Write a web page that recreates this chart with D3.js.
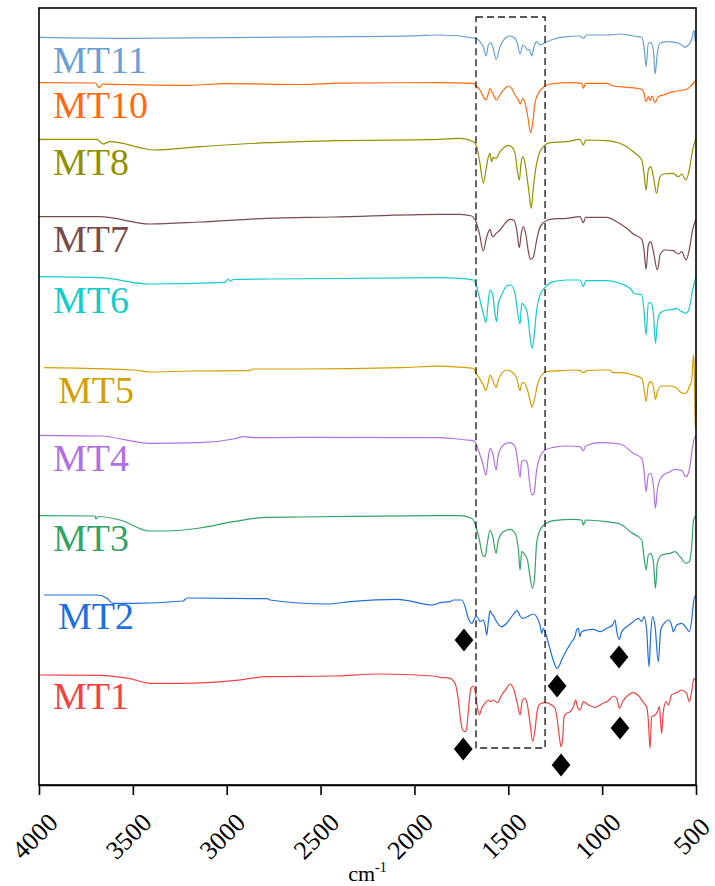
<!DOCTYPE html>
<html lang="en">
<head>
  <meta charset="utf-8">
  <title>FTIR spectra MT1 - MT11</title>
  <script src="https://d3js.org/d3.v7.min.js"></script>
  <style>
    body { margin: 0; background: #fff; }
    svg text { font-family: "Times New Roman", "Liberation Serif", serif; }
  </style>
</head>
<body>
<script>
// wavenumber (cm-1) vs. transmittance, each spectrum relative to its own baseline (a.u.)
var names   = ["MT1", "MT2", "MT3", "MT4", "MT5", "MT6", "MT7", "MT8", "MT10", "MT11"];
var colors  = ["#f04343", "#1f6fe0", "#33a366", "#b070e3", "#d49f00", "#14cccc", "#7a4a4a", "#929200", "#ff6a10", "#6a9fd4"];
var offsets = [110, 190, 269.3, 349.7, 417.3, 508.3, 568.3, 645.7, 702.3, 747.7];
var labelX  = [3925, 3899, 3925, 3925, 3899, 3925, 3925, 3925, 3925, 3925];
var labelY  = [76, 156, 234, 314, 382, 472, 533, 610, 667, 712];
var xTicks  = [4000, 3500, 3000, 2500, 2000, 1500, 1000, 500];

var mt1 = [[4000,0],[3675,-0.3],[3515,-3.7],[3409,-8.3],[3233,-8.3],[2966,-5.7],[2785,-1.7],[2434,-1],[2183,1],[1900,-1],[1864,-2.3],[1810,-3.3],[1784,-8.3],[1766,-25],[1754,-45],[1743,-55],[1730,-56.7],[1722,-53.3],[1709,-28.3],[1699,-13.3],[1686,-11],[1676,-16.7],[1665,-31.7],[1654,-40],[1642,-33.3],[1624,-28.3],[1606,-25],[1594,-26.7],[1580,-25],[1558,-27.7],[1535,-20],[1509,-13.3],[1491,-9],[1473,-13.3],[1452,-28.3],[1437,-40],[1425,-25],[1411,-23.3],[1398,-30],[1384,-48.3],[1370,-66.7],[1358,-55],[1345,-35],[1331,-29],[1304,-27.7],[1278,-29],[1251,-33.3],[1239,-45],[1228,-61.7],[1219,-71.7],[1210,-63.3],[1203,-41.7],[1189,-38.3],[1171,-36.7],[1153,-31.7],[1141,-25],[1132,-31.7],[1118,-35],[1100,-26.7],[1073,-30],[1038,-32.3],[1002,-29],[967,-25.7],[940,-21],[922,-23.3],[908,-33.3],[891,-26.7],[860,-20],[834,-17.7],[802,-21.7],[777,-28.3],[763,-31.7],[754,-45],[745,-73.3],[736,-41.7],[718,-40],[706,-36.7],[695,-31.7],[688,-48.3],[683,-58.3],[674,-36.7],[660,-26.7],[647,-30],[630,-20],[612,-18.3],[594,-16.7],[576,-15],[550,-18.3],[536,-26.7],[523,-16.7],[511,-3.3],[505,-5],[500,-5]];

var mt2 = [[3973,0],[3691,0],[3638,-3.3],[3606,-8.3],[3499,-8.3],[3233,-6],[3212,-3],[2785,-3.7],[2769,-5],[2466,-9],[2343,-6.7],[2093,-4.3],[1901,-10],[1864,-7.7],[1810,-6.7],[1793,-5],[1748,-5],[1730,-11.7],[1713,-23.3],[1695,-28.3],[1683,-25],[1672,-21],[1660,-23.3],[1651,-26.7],[1636,-25],[1624,-30],[1615,-40],[1606,-26.7],[1597,-15.7],[1589,-18.3],[1576,-21.7],[1562,-26.7],[1535,-31.7],[1509,-28.3],[1482,-21.7],[1452,-15.7],[1437,-21],[1423,-23.3],[1398,-21.7],[1366,-19],[1349,-21.7],[1331,-30],[1322,-38.3],[1313,-33.3],[1304,-36.7],[1286,-48.3],[1269,-60],[1251,-70],[1242,-73.3],[1233,-72.3],[1216,-65],[1189,-55],[1162,-46.7],[1144,-41],[1136,-35],[1127,-33.3],[1118,-41.7],[1109,-36.7],[1082,-35],[1047,-34.3],[1011,-36.7],[976,-33.3],[944,-30],[931,-25],[922,-36.7],[908,-44.3],[896,-36.7],[869,-31.7],[834,-26.7],[807,-23.3],[789,-26.7],[777,-21.7],[763,-35],[750,-71.7],[741,-38.3],[731,-21.7],[718,-31.7],[701,-66.7],[688,-35],[670,-28.3],[647,-25],[630,-30],[621,-36.7],[603,-30],[576,-28.3],[550,-33.3],[536,-36.7],[523,-25],[514,-8.3],[505,-1],[500,-1]];

var mt3 = [[4000,0],[3702,-0.3],[3696,-3.3],[3686,-0.8],[3568,-4.3],[3409,-15.3],[3318,-15.3],[3142,-12.3],[2966,-6],[2785,-1.6],[2610,-1.3],[1864,0],[1757,0],[1695,-2.6],[1672,-11],[1654,-24.3],[1636,-39.3],[1624,-41],[1612,-27.6],[1597,-14.3],[1583,-21],[1565,-37.6],[1553,-24.3],[1526,-16],[1491,-13.6],[1464,-17.6],[1446,-34.3],[1437,-54.3],[1429,-36],[1416,-37.6],[1398,-44.3],[1384,-61],[1372,-72.6],[1361,-64.3],[1349,-27.6],[1331,-14.3],[1304,-8.3],[1260,-5],[1153,-3.6],[1109,-4.3],[1100,-9.3],[1089,-4.3],[976,-6],[905,-8.3],[843,-17],[789,-24.3],[777,-41],[766,-54.3],[754,-39.3],[741,-37.6],[727,-46],[716,-72.6],[706,-47.6],[683,-39.3],[638,-37.6],[612,-36],[585,-41],[553,-47.6],[536,-46],[523,-31],[514,-6],[505,-1],[500,-1]];

var mt4 = [[4000,0],[3675,-0.7],[3409,-8],[3142,-7.4],[2966,-3.7],[2935,-2.4],[2918,-1.4],[2850,-2.4],[2610,-2],[1864,-2.4],[1722,-4.7],[1686,-5.4],[1672,-8],[1654,-18],[1636,-28],[1619,-39.7],[1606,-21.4],[1597,-13],[1583,-18],[1565,-34.7],[1553,-19.7],[1526,-9.7],[1491,-7.4],[1464,-11.4],[1452,-23],[1437,-42],[1429,-26.4],[1411,-24.7],[1398,-28],[1388,-44.7],[1375,-59.7],[1363,-58],[1349,-34.7],[1331,-21.4],[1304,-14.7],[1260,-12],[1189,-10.7],[1118,-11.4],[1100,-15.4],[1088,-10.7],[1011,-7.4],[905,-8.7],[834,-18],[789,-23],[777,-34.7],[766,-56.4],[754,-39.7],[741,-38],[727,-49.7],[716,-73],[706,-54.7],[683,-41.4],[638,-36.4],[612,-34],[594,-34.7],[576,-35],[553,-41.4],[536,-34.7],[518,-11.4],[505,-1.4],[500,-1.4]];

var mt5 = [[3973,0],[3800,-0.5],[3500,-2.3],[3409,-4.3],[3200,-3.3],[2880,-3],[2860,-1.3],[2600,-1.3],[2077,0],[1864,1.5],[1757,0.5],[1686,-0.6],[1672,-5.6],[1654,-10.6],[1633,-17.3],[1619,-23],[1606,-14],[1597,-7.3],[1583,-12.3],[1565,-19.6],[1553,-12.3],[1535,-5.6],[1509,-2.3],[1482,-4],[1455,-10.6],[1437,-23],[1429,-15.6],[1416,-15],[1398,-22.3],[1384,-32.3],[1374,-39.6],[1361,-32.3],[1345,-17.3],[1322,-7.3],[1295,-4],[1224,-3],[1153,-2.3],[1118,-3],[1100,-5],[1082,-3],[1011,-2.3],[958,-2.3],[940,-5],[905,-5],[834,-7.3],[789,-10.6],[777,-20.6],[766,-34],[754,-17.3],[741,-14],[727,-19],[716,-31.6],[706,-24],[683,-18.3],[638,-18.3],[603,-20.6],[585,-24],[567,-25.6],[550,-25],[536,-19],[523,-12.3],[513,12.7],[509,-2.3],[504,-60.6],[500,-35]];

var mt6 = [[4000,0],[3675,-1],[3409,-7.3],[3009,-5.6],[2993,-2.3],[2980,-4.5],[2966,-2.8],[2769,-2.3],[1864,-1],[1757,-1.6],[1686,-3.3],[1668,-10],[1651,-23.3],[1633,-36.6],[1619,-46],[1606,-23.3],[1597,-13.3],[1583,-18.3],[1571,-36.6],[1562,-45],[1553,-26.6],[1535,-18.3],[1509,-9.3],[1487,-8.3],[1464,-16.6],[1452,-33.3],[1437,-47.3],[1429,-26.6],[1411,-30],[1398,-36.6],[1384,-60],[1372,-71.6],[1361,-56.6],[1349,-33.3],[1331,-18.3],[1304,-10.6],[1260,-5],[1189,-3.3],[1118,-3.3],[1100,-10],[1088,-3.9],[976,-3.9],[905,-6.6],[843,-13.3],[834,-16.6],[789,-18.3],[777,-33.3],[766,-58.3],[754,-26.6],[741,-26],[727,-36.6],[716,-66.6],[706,-46.6],[692,-36.6],[656,-33.3],[621,-32.6],[603,-31.6],[585,-34],[553,-36.6],[536,-31.6],[518,-13.3],[500,0]];

var mt7 = [[4000,0],[3675,0],[3409,-7.3],[3142,-5.3],[2785,-1.6],[2434,-0.3],[1864,2.4],[1757,2.4],[1695,0.7],[1672,-5],[1654,-16.6],[1633,-34.3],[1619,-23.3],[1606,-15],[1597,-12.6],[1589,-18.3],[1580,-20],[1565,-16.6],[1544,-13.3],[1517,-6.6],[1491,-2.6],[1470,-3.3],[1455,-13.3],[1441,-31],[1432,-18.3],[1420,-10],[1406,-18.3],[1393,-35],[1381,-42.6],[1366,-40],[1352,-26.6],[1335,-12.6],[1313,-6],[1278,-2.6],[1189,-1.6],[1118,0],[1100,-6],[1088,-0.6],[976,-0.6],[922,-5],[869,-11.6],[834,-17.3],[789,-22.6],[777,-33.3],[766,-52.6],[754,-28.3],[741,-25],[727,-35],[706,-53.3],[690,-37.3],[665,-33.3],[621,-34],[594,-37.3],[576,-35],[553,-43.3],[536,-33.3],[518,-13.3],[500,-2.6]];

var mt8 = [[4000,0],[3691,0],[3659,-4.7],[3622,-2.4],[3446,-9],[3393,-10.7],[3142,-7.4],[2785,-3.4],[2434,-1.4],[1864,0],[1757,0.9],[1686,-2.4],[1668,-7.4],[1651,-24],[1633,-44],[1619,-30.7],[1606,-17.4],[1597,-14],[1589,-22.4],[1580,-18],[1565,-19],[1544,-12.4],[1517,-7.4],[1500,-6],[1482,-7.4],[1464,-14],[1452,-30.7],[1441,-40.7],[1432,-24],[1423,-17.4],[1411,-24],[1398,-40.7],[1388,-55.7],[1378,-69],[1366,-47.4],[1352,-27.4],[1335,-14],[1313,-7.4],[1278,-3.4],[1189,-2.4],[1118,0],[1100,-5.7],[1088,-0.7],[976,-1.4],[905,-4],[834,-12.4],[789,-20.7],[777,-34],[766,-51],[754,-30.7],[741,-27.4],[727,-37.4],[710,-54],[692,-37.4],[674,-34.7],[621,-34],[594,-37.4],[576,-34.7],[553,-40.7],[536,-30.7],[518,-10.7],[500,1]];

var mt10 = [[4000,0],[3700,-0.3],[3680,-5],[3660,-1.5],[3500,-2],[3200,-2.6],[3000,-1],[2600,-1.8],[2400,-0.5],[1864,0],[1686,-0.6],[1668,-3.3],[1651,-7.3],[1633,-14],[1619,-17.3],[1606,-10.6],[1597,-6],[1583,-10.6],[1562,-17.3],[1544,-12.3],[1517,-5.6],[1500,-3.3],[1482,-5.6],[1459,-14],[1446,-17.3],[1437,-21.3],[1423,-15.6],[1406,-24],[1393,-37.3],[1381,-50],[1370,-40.6],[1358,-20.6],[1340,-10.6],[1313,-4.6],[1278,-1.3],[1153,0],[1109,-0.6],[1100,-5.6],[1089,-0.6],[976,-0.6],[940,-3.3],[869,-4.6],[789,-6.6],[777,-10.6],[766,-19],[754,-14],[745,-18],[734,-13.3],[718,-20],[701,-14],[674,-12.3],[621,-9],[550,-6.6],[523,-2.3],[500,2.7]];

var mt11 = [[4000,0],[3500,-1],[3000,-0.3],[2500,0.5],[2000,1.5],[1864,2.3],[1672,-1],[1651,-4.4],[1633,-9.4],[1619,-18.7],[1606,-7.7],[1594,-5.4],[1580,-11],[1565,-22],[1544,-9.4],[1517,-1],[1491,1.3],[1464,-1],[1452,-6],[1437,-16.7],[1423,-7.7],[1411,-9.4],[1398,-12.7],[1388,-12],[1375,-18.7],[1363,-9.4],[1349,-4.4],[1331,-7.7],[1304,-5.4],[1260,-2],[1189,0.6],[1118,1.3],[1100,-1],[1082,2.3],[976,2.3],[905,3.3],[834,1.3],[789,0],[777,-9.4],[766,-29.4],[754,-6],[741,-5.4],[727,-12.7],[718,-36.7],[706,-16],[692,-6],[656,-4.4],[603,-5.4],[576,-7.7],[559,-10],[541,-7.7],[528,-4.4],[519,1.3],[514,5.6],[509,6.6],[505,-2.7],[500,-4.4]];

var spectra = [mt1, mt2, mt3, mt4, mt5, mt6, mt7, mt8, mt10, mt11];

// marked bands (wavenumber, a.u.)
var diamonds = [[1736, 145], [1240, 99], [910, 128], [1740, 36], [1219, 20], [905, 57]];
// dashed region 1672 - 1304 cm-1
var boxX = [1672, 1304];
var boxY = [37, 768];

var W = 715, H = 886;
var margin = {left: 39, right: 19, top: 8, bottom: 101};

var svg = d3.select("body").append("svg")
  .attr("width", W)
  .attr("height", H);

var x = d3.scaleLinear()
  .domain([4000, 500])
  .range([margin.left, W - margin.right]);

var y = d3.scaleLinear()
  .domain([0, 777])
  .range([H - margin.bottom, margin.top]);

var line = d3.line()
  .x(function(d) { return x(d[0]); })
  .y(function(d) { return y(d[1]); })
  .curve(d3.curveMonotoneX);

// spectra
spectra.forEach(function(s, i) {
  svg.append("path")
    .datum(s.map(function(p) { return [p[0], p[1] + offsets[i]]; }))
    .attr("d", line)
    .attr("fill", "none")
    .attr("stroke", colors[i])
    .attr("stroke-width", 1.2);
});

// names
svg.selectAll("text.name")
  .data(names)
  .enter().append("text")
  .attr("class", "name")
  .attr("x", function(d, i) { return x(labelX[i]); })
  .attr("y", function(d, i) { return y(labelY[i]); })
  .attr("fill", function(d, i) { return colors[i]; })
  .style("font-size", "38px")
  .text(function(d) { return d; });

// dashed box
svg.append("rect")
  .attr("x", x(boxX[0]))
  .attr("y", y(boxY[1]))
  .attr("width", x(boxX[1]) - x(boxX[0]))
  .attr("height", y(boxY[0]) - y(boxY[1]))
  .attr("fill", "none")
  .attr("stroke", "#222")
  .attr("stroke-width", 1.4)
  .attr("stroke-dasharray", "7,4");

// diamond markers
var rhomb = {
  draw: function(ctx, size) {
    var h = Math.sqrt(size) * 0.62, w = h * 0.82;
    ctx.moveTo(0, -h);
    ctx.lineTo(w, 0);
    ctx.lineTo(0, h);
    ctx.lineTo(-w, 0);
    ctx.closePath();
  }
};
svg.selectAll("path.mark")
  .data(diamonds)
  .enter().append("path")
  .attr("class", "mark")
  .attr("transform", function(d) { return "translate(" + x(d[0]) + "," + y(d[1]) + ")"; })
  .attr("d", d3.symbol().type(rhomb).size(340))
  .attr("fill", "#000");

// frame
svg.append("rect")
  .attr("x", margin.left)
  .attr("y", margin.top)
  .attr("width", W - margin.left - margin.right)
  .attr("height", H - margin.top - margin.bottom)
  .attr("fill", "none")
  .attr("stroke", "#000")
  .attr("stroke-width", 1.6);

// x axis
var xAxis = svg.append("g")
  .attr("transform", "translate(0," + (H - margin.bottom) + ")")
  .call(d3.axisBottom(x).tickValues(xTicks).tickSize(10).tickSizeOuter(0).tickFormat(d3.format("d")));

xAxis.select(".domain").attr("stroke-width", 1.6);
xAxis.selectAll(".tick line").attr("stroke-width", 1.6);
xAxis.selectAll(".tick text")
  .attr("y", null)
  .attr("dy", "0.35em")
  .attr("text-anchor", "middle")
  .attr("transform", "translate(-5,51) rotate(-45)")
  .style("font-family", "'Times New Roman', 'Liberation Serif', serif")
  .style("font-size", "26px")
  .attr("fill", "#000");

var unit = svg.append("text")
  .attr("x", (margin.left + W - margin.right) / 2)
  .attr("y", 881)
  .attr("text-anchor", "middle")
  .style("font-size", "22px")
  .attr("fill", "#000");
unit.append("tspan").text("cm");
unit.append("tspan").attr("dy", -9).style("font-size", "14px").text("-1");
</script>
</body>
</html>
